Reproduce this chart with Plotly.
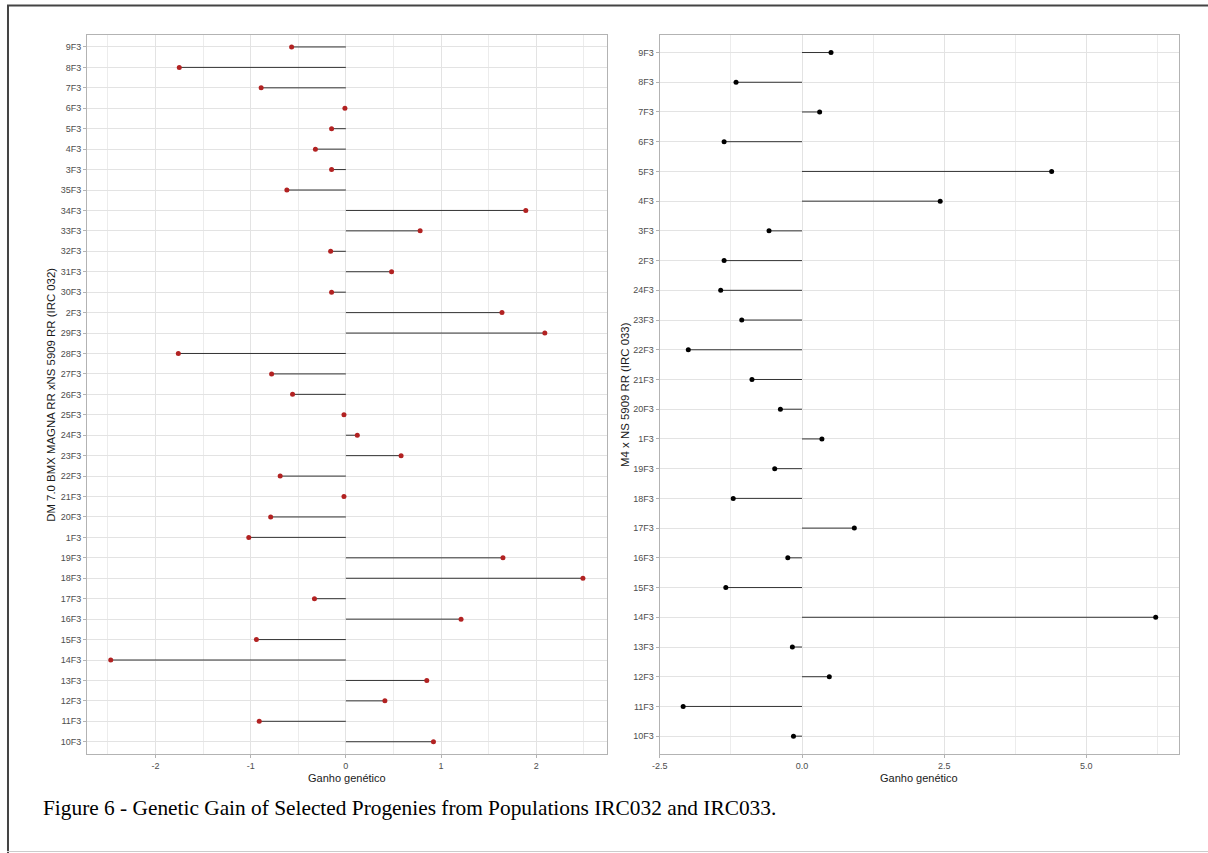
import plotly.graph_objects as go

W, H = 1208, 853

# ---- Data: IRC 032 (left panel), categories bottom-to-top ----
cats_left = ["10F3", "11F3", "12F3", "13F3", "14F3", "15F3", "16F3", "17F3", "18F3", "19F3",
             "1F3", "20F3", "21F3", "22F3", "23F3", "24F3", "25F3", "26F3", "27F3", "28F3",
             "29F3", "2F3", "30F3", "31F3", "32F3", "33F3", "34F3", "35F3", "3F3", "4F3",
             "5F3", "6F3", "7F3", "8F3", "9F3"]
gain_left = [0.92, -0.91, 0.41, 0.85, -2.47, -0.94, 1.21, -0.33, 2.49, 1.65,
             -1.02, -0.79, -0.02, -0.69, 0.58, 0.12, -0.02, -0.56, -0.78, -1.76,
             2.09, 1.64, -0.15, 0.48, -0.16, 0.78, 1.89, -0.62, -0.15, -0.32,
             -0.15, -0.01, -0.89, -1.75, -0.57]

# ---- Data: IRC 033 (right panel), categories bottom-to-top ----
cats_right = ["10F3", "11F3", "12F3", "13F3", "14F3", "15F3", "16F3", "17F3", "18F3", "19F3",
              "1F3", "20F3", "21F3", "22F3", "23F3", "24F3", "2F3", "3F3", "4F3", "5F3",
              "6F3", "7F3", "8F3", "9F3"]
gain_right = [-0.15, -2.09, 0.48, -0.17, 6.22, -1.34, -0.25, 0.92, -1.21, -0.48,
              0.35, -0.38, -0.88, -2.00, -1.06, -1.43, -1.37, -0.58, 2.43, 4.39,
              -1.37, 0.31, -1.16, 0.51]

xticks_left = [-2, -1, 0, 1, 2]
xticklabels_left = ["-2", "-1", "0", "1", "2"]
xticks_right = [-2.5, 0.0, 2.5, 5.0]
xticklabels_right = ["-2.5", "0.0", "2.5", "5.0"]

ytitle_left = "DM 7.0 BMX MAGNA RR xNS 5909 RR (IRC 032)"
ytitle_right = "M4 x NS 5909 RR (IRC 033)"
xtitle = "Ganho genético"
caption = "Figure 6 - Genetic Gain of Selected Progenies from Populations IRC032 and IRC033."


def seg(cats, vals):
    xs, ys = [], []
    for c, v in zip(cats, vals):
        xs += [0, v, None]
        ys += [c, c, None]
    return xs, ys


fig = go.Figure()
xl, yl = seg(cats_left, gain_left)
fig.add_trace(go.Scatter(x=xl, y=yl, mode="lines", line=dict(color="#333333", width=1),
                         xaxis="x", yaxis="y", showlegend=False, hoverinfo="skip"))
fig.add_trace(go.Scatter(x=gain_left, y=cats_left, mode="markers",
                         marker=dict(color="#B22222", size=5),
                         xaxis="x", yaxis="y", showlegend=False))
xr, yr = seg(cats_right, gain_right)
fig.add_trace(go.Scatter(x=xr, y=yr, mode="lines", line=dict(color="#333333", width=1),
                         xaxis="x2", yaxis="y2", showlegend=False, hoverinfo="skip"))
fig.add_trace(go.Scatter(x=gain_right, y=cats_right, mode="markers",
                         marker=dict(color="#000000", size=5),
                         xaxis="x2", yaxis="y2", showlegend=False))


# observed capture mapping: shown_x = 6.6 + 0.994 * layout_x
def px_x(p):
    return max((p - 6.6) / 0.994, 0) / W


def px_y(p):
    return 1 - p / H


L1, R1 = 86.7, 606.0
L2, R2 = 659.0, 1178.7
T, B = 34.7, 754.0

def expand(vals):
    lo, hi = min(min(vals), 0), max(max(vals), 0)
    d = (hi - lo) * 0.05
    return [lo - d, hi + d]

tickfont = dict(family="Liberation Sans, Arial, sans-serif", size=9, color="#4d4d4d")
axis_common = dict(showline=True, mirror=True, linecolor="#b3b3b3", linewidth=1,
                   gridcolor="#e3e3e3", gridwidth=1, zeroline=False,
                   ticks="outside", ticklen=3, tickcolor="#b3b3b3", tickwidth=1,
                   tickfont=tickfont)

fig.update_layout(
    width=W, height=H, margin=dict(l=0, r=0, t=0, b=0),
    paper_bgcolor="white", plot_bgcolor="white",
    xaxis=dict(domain=[px_x(L1), px_x(R1)], anchor="y", range=expand(gain_left),
               tickmode="array", tickvals=xticks_left, ticktext=xticklabels_left,
               minor=dict(tickmode="array", tickvals=[-2.5, -1.5, -0.5, 0.5, 1.5, 2.5],
                          showgrid=True, gridcolor="#ececec", ticks=""),
               **axis_common),
    yaxis=dict(domain=[px_y(B), px_y(T)], anchor="x", type="category",
               categoryorder="array", categoryarray=cats_left,
               range=[-0.6, len(cats_left) - 0.4], **axis_common),
    xaxis2=dict(domain=[px_x(L2), px_x(R2)], anchor="y2", range=expand(gain_right),
                tickmode="array", tickvals=xticks_right, ticktext=xticklabels_right,
                minor=dict(tickmode="array", tickvals=[-1.25, 1.25, 3.75, 6.25],
                           showgrid=True, gridcolor="#ececec", ticks=""),
                **axis_common),
    yaxis2=dict(domain=[px_y(B), px_y(T)], anchor="x2", type="category",
                categoryorder="array", categoryarray=cats_right,
                range=[-0.6, len(cats_right) - 0.4], **axis_common),
)

titlefont = dict(family="Liberation Sans, Arial, sans-serif", size=11, color="#1a1a1a")
ytitlefont = dict(family="Liberation Sans, Arial, sans-serif", size=11.4, color="#1a1a1a")
fig.add_annotation(x=px_x((L1 + R1) / 2), y=px_y(778), xref="paper", yref="paper",
                   text=xtitle, showarrow=False, font=titlefont, xanchor="center", yanchor="middle")
fig.add_annotation(x=px_x((L2 + R2) / 2), y=px_y(778), xref="paper", yref="paper",
                   text=xtitle, showarrow=False, font=titlefont, xanchor="center", yanchor="middle")
fig.add_annotation(x=px_x(51), y=px_y((T + B) / 2), xref="paper", yref="paper",
                   text=ytitle_left, showarrow=False, font=ytitlefont, textangle=-90,
                   xanchor="center", yanchor="middle")
fig.add_annotation(x=px_x(625), y=px_y((T + B) / 2), xref="paper", yref="paper",
                   text=ytitle_right, showarrow=False, font=ytitlefont, textangle=-90,
                   xanchor="center", yanchor="middle")
fig.add_annotation(x=px_x(41), y=px_y(808), xref="paper", yref="paper",
                   text=caption, showarrow=False, xanchor="left", yanchor="middle",
                   font=dict(family="Liberation Serif, Times New Roman, serif", size=21.35, color="#000000"))

# figure frame
fig.add_shape(type="line", xref="paper", yref="paper", x0=1 / W, x1=1 / W,
              y0=px_y(5.5), y1=0, line=dict(color="#444444", width=2))
fig.add_shape(type="line", xref="paper", yref="paper", x0=0, x1=1,
              y0=px_y(5.5), y1=px_y(5.5), line=dict(color="#444444", width=2))
fig.add_shape(type="line", xref="paper", yref="paper", x0=0, x1=1,
              y0=px_y(851.5), y1=px_y(851.5), line=dict(color="#cccccc", width=1))

fig.write_html("out.html", post_script="document.body.style.margin='0';",
               config={"displayModeBar": False})
